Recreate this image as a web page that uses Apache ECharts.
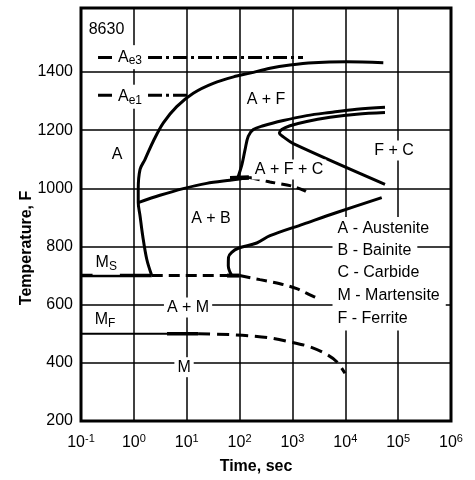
<!DOCTYPE html>
<html>
<head>
<meta charset="utf-8">
<script src="https://cdn.jsdelivr.net/npm/echarts@6/dist/echarts.min.js"></script>
<style>
  html, body { margin: 0; padding: 0; background: #fff; }
  #chart { width: 475px; height: 480px; }
</style>
</head>
<body>
<div id="chart"></div>
<script>
// Isothermal transformation diagram for 8630 steel.
// Every curve is a list of [time (s), temperature (F)] points.

const tempTicks = [200, 400, 600, 800, 1000, 1200, 1400];

const ferriteStart = [[2.18,700],[1.75,757],[1.47,837],[1.31,905],[1.21,951],[1.21,997],[1.31,1065],
  [1.62,1099],[2.33,1162],[3.61,1225],[6.47,1281],[13.3,1327],[31.8,1361],[88,1386],[157,1396],
  [376,1413],[900,1424],[2480,1432],[10600,1435],[52400,1432]];

const bainiteStart = [[1.21,951],[3.12,976],[8.6,999],[23.9,1017],[65.9,1028],[157,1037]];
const bainiteStub = [[66,1035],[150,1037]];

const carbideLower = [[157,1037],[376,1022],[968,1008],[1730,991],[2150,980]];

const pearliteUpper = [[93,1037],[111,1082],[127,1133],[146,1179],[182,1202],[281,1215],[672,1233],
  [1862,1250],[5140,1261],[16400,1272],[56400,1279]];

const ferriteCarbideNose = [[56400,1261],[16400,1255],[5140,1244],[1862,1230],[900,1215],[627,1202],
  [565,1190],[672,1177],[1038,1154],[56400,1014]];

const bainiteFinish = [[71,700],[61.2,734],[61.7,763],[71,780],[94.6,794],[211,812],[377,837],
  [1607,877],[6890,917],[48900,968]];

const msSolid = [[0.1,700],[2.18,700]];
const msDashed = [[2.18,700],[61,700]];
const msStub = [[58,700],[100,700]];
const msFalling = [[100,700],[243,686],[582,672],[1205,655],[2150,634],[3324,618]];

const mfThin = [[0.1,500],[4.24,500]];
const mfThick = [[4.24,500],[16.4,500]];
const mfFalling = [[16.4,500],[65.9,497],[157,493],[376,486],[900,472],[2150,455],[4450,429],
  [6890,404],[9860,364]];

const ae3Line = [[0.21,1450],[1585,1450]];
const ae1Line = [[0.21,1320],[11.5,1320]];

// Phase-field labels: text, time, temperature
const fieldTexts = ['A', 'A + F', 'A + F + C', 'F + C', 'A + B', 'A + M', 'M',
  'A{sub|e3}', 'A{sub|e1}', 'M{sub|S}', 'M{sub|F}'];
const fieldTimes = [0.48, 316, 861, 83600, 28.8, 10.6, 8.9, 0.845, 0.845, 0.30, 0.284];
const fieldTemps = [1116, 1304, 1065, 1130, 897, 590, 385, 1451, 1315, 744, 549];

// Key to the phase letters
const keyTexts = ['A - Austenite', 'B - Bainite', 'C - Carbide', 'M - Martensite', 'F - Ferrite'];
const keyTime = 5610;
const keyTemps = [860, 785, 710, 632, 552];

const steelGrade = '8630';
const gradeTime = 0.11;
const gradeTemp = 1547;

const FONT = '"Liberation Sans", Arial, Helvetica, sans-serif';
const INK = '#000';

function curve(data, width, type, smooth) {
  return {
    type: 'line', data: data, symbol: 'none', silent: true, z: 3,
    smooth: smooth || false,
    lineStyle: { color: INK, width: width, type: type || 'solid', cap: 'butt' }
  };
}

const subRich = {
  sub: { fontSize: 12, fontFamily: FONT, color: INK, padding: [8, 0, 0, 0] }
};

function textLayer(data, position, padding) {
  return {
    type: 'scatter', silent: true, z: 6, symbolSize: 1,
    itemStyle: { color: 'rgba(0,0,0,0)', opacity: 1 },
    data: data,
    label: {
      show: true, position: position, distance: 0, opacity: 1,
      color: INK, fontSize: 16, fontFamily: FONT,
      backgroundColor: '#fff', padding: padding,
      formatter: function (p) { return p.name; }, rich: subRich
    }
  };
}

const chart = echarts.init(document.getElementById('chart'), null, { renderer: 'canvas' });

chart.setOption({
  animation: false,
  backgroundColor: '#fff',
  grid: { left: 81, right: 24, top: 8, bottom: 57, show: true, borderColor: INK, borderWidth: 3 },
  xAxis: {
    type: 'log', logBase: 10, min: 0.1, max: 1e6, interval: 1,
    axisLine: { show: false }, axisTick: { show: false },
    splitLine: { show: true, lineStyle: { color: INK, width: 1.5 } },
    axisLabel: {
      margin: 12, color: INK, fontSize: 16, fontFamily: FONT,
      showMinLabel: true, showMaxLabel: true,
      formatter: function (v) { return '10{sup|' + Math.round(Math.log10(v)) + '}'; },
      rich: { sup: { fontSize: 11, fontFamily: FONT, color: INK, padding: [0, 0, 9, 0] } }
    },
    name: 'Time, sec', nameLocation: 'middle', nameGap: 38, nameMoveOverlap: false,
    nameTextStyle: { color: INK, fontSize: 16, fontWeight: 'bold', fontFamily: FONT, padding: [0, 20, 0, 0] }
  },
  yAxis: {
    type: 'value', min: 200, max: 1620, interval: 200,
    axisLine: { show: false }, axisTick: { show: false },
    splitLine: { show: true, lineStyle: {
      color: [INK, INK, INK, INK, INK, INK, INK, 'rgba(0,0,0,0)', INK], width: 1.5 } },
    axisLabel: {
      margin: 8, color: INK, fontSize: 16, fontFamily: FONT,
      formatter: function (v) { return tempTicks.indexOf(v) >= 0 ? String(v) : ''; }
    },
    name: 'Temperature, F', nameLocation: 'middle', nameGap: 46, nameMoveOverlap: false,
    nameTextStyle: { color: INK, fontSize: 16, fontWeight: 'bold', fontFamily: FONT, padding: [0, 67, 0, 0] }
  },
  series: [
    curve(ferriteStart, 3, 'solid', 0.35),
    curve(bainiteStart, 3, 'solid', 0.3),
    curve(bainiteStub, 4.5),
    curve(carbideLower, 3, [10, 6], 0.3),
    curve(pearliteUpper, 3, 'solid', 0.35),
    curve(ferriteCarbideNose, 3, 'solid', 0.35),
    curve(bainiteFinish, 3, 'solid', 0.35),
    curve(msSolid, 3.5),
    curve(msDashed, 3, [11, 6]),
    curve(msStub, 4),
    curve(msFalling, 3, [11, 6], 0.3),
    curve(mfThin, 2),
    curve(mfThick, 3.5),
    curve(mfFalling, 3, [12, 7], 0.3),
    curve(ae3Line, 3, [14, 4, 3, 4]),
    curve(ae1Line, 3, [14, 4, 3, 4]),
    textLayer(fieldTexts.map(function (s, i) {
      return { value: [fieldTimes[i], fieldTemps[i]], name: s };
    }), 'inside', [2, 3, 2, 3]),
    textLayer(keyTexts.map(function (s, i) {
      return { value: [keyTime, keyTemps[i]], name: s };
    }).concat([{ value: [gradeTime, gradeTemp], name: steelGrade }]), 'right', [4, 6, 4, 5])
  ]
});
</script>
</body>
</html>
